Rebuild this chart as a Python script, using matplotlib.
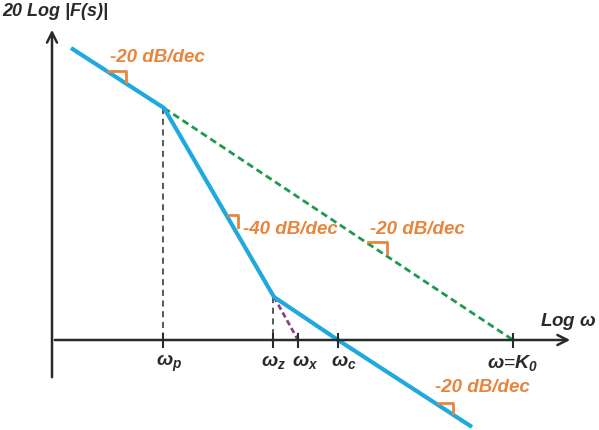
import matplotlib.pyplot as plt

plt.rcParams['font.family'] = ['Liberation Sans', 'DejaVu Sans']
plt.rcParams['mathtext.fontset'] = 'custom'
plt.rcParams['mathtext.it'] = 'Liberation Sans:bold:italic'
plt.rcParams['mathtext.rm'] = 'Liberation Sans:bold:italic'
plt.rcParams['mathtext.bf'] = 'Liberation Sans:bold:italic'

# asymptotic bode plot, coordinates in diagram units (x right, y down)
blue_x = [71, 164, 274, 338, 472]
blue_y = [48, 108, 297, 340, 427]
green_x = [164, 513]
green_y = [108, 340]
purple_x = [274, 298]
purple_y = [297, 340]

tick_x = [163, 273, 298, 338, 513]
tick_labels = [r'$\omega_p$', r'$\omega_z$', r'$\omega_x$', r'$\omega_c$', r'$\omega$=$K_0$']
# where each label starts relative to its tick (None = centred)
label_shift = [-7, -12, -6, -7, None]

slope_texts = ['-20 dB/dec', '-40 dB/dec', '-20 dB/dec', '-20 dB/dec']
slope_text_xy = [(110, 57), (243, 229), (370, 229), (435, 388)]
# right-angle markers: (x_left, x_right, y_top, y_bottom)
slope_marks = [(108, 126, 71, 82), (228, 238, 215, 227), (368, 387, 242, 253), (438, 453, 403, 413)]

BLUE = '#1fa9de'
ORANGE = '#e8853d'
GREEN = '#1d9a4f'
PURPLE = '#8a3f8c'
DARK = '#2a2a2a'

fig = plt.figure(figsize=(5.99, 4.30), dpi=100)
ax = fig.add_axes([0, 0, 1, 1])
ax.set_xlim(0, 599)
ax.set_ylim(430, 0)
ax.axis('off')

# axes with arrows
ax.annotate('', xy=(573, 340), xytext=(52, 340),
            arrowprops=dict(arrowstyle='->', color=DARK, lw=1.8, mutation_scale=18))
ax.annotate('', xy=(52, 27), xytext=(52, 380),
            arrowprops=dict(arrowstyle='->', color=DARK, lw=1.8, mutation_scale=18))

# helper dashed verticals
ax.plot([163, 163], [108, 340], color=DARK, lw=1.1, ls=(0, (4, 3)))
ax.plot([273, 273], [297, 340], color=DARK, lw=1.1, ls=(0, (4, 3)))

ax.plot(green_x, green_y, color=GREEN, lw=2, ls=(0, (2.5, 1.5)))
ax.plot(purple_x, purple_y, color=PURPLE, lw=2, ls=(0, (2, 1.2)))
ax.plot(blue_x, blue_y, color=BLUE, lw=3, solid_capstyle='butt')

for x, lab, dx in zip(tick_x, tick_labels, label_shift):
    ax.plot([x, x], [334, 347], color=DARK, lw=1.5)
    if dx is None:
        ax.text(x, 353, lab, ha='center', va='top', fontsize=14, color=DARK)
    else:
        ax.text(x + dx, 353, lab, ha='left', va='top', fontsize=14, color=DARK)

for (x, y), t in zip(slope_text_xy, slope_texts):
    ax.text(x, y, t, ha='left', va='center', fontsize=13.5, color=ORANGE,
            fontweight='bold', fontstyle='italic')

for x0, x1, y0, y1 in slope_marks:
    ax.plot([x0, x1, x1], [y0, y0, y1], color=ORANGE, lw=2)

ax.text(2, 12, '20 Log |F(s)|', ha='left', va='center', fontsize=13, color=DARK,
        fontweight='bold', fontstyle='italic')
ax.text(597, 322, r'Log $\omega$', ha='right', va='center', fontsize=13.5, color=DARK,
        fontweight='bold', fontstyle='italic')

fig.savefig('out.png', dpi=100, facecolor='white')
